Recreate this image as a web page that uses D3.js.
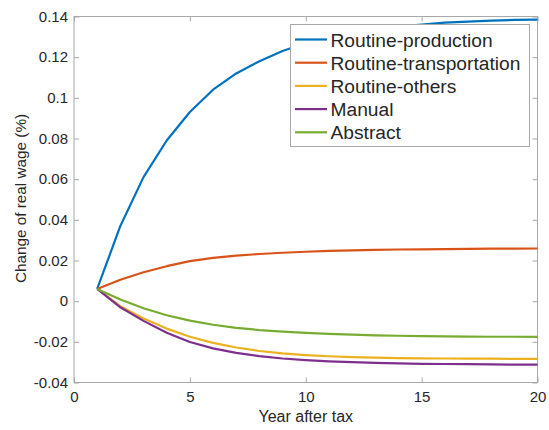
<!DOCTYPE html>
<html>
<head>
<meta charset="utf-8">
<script src="https://cdn.jsdelivr.net/npm/d3@7"></script>
<style>
  body { margin: 0; background: #fff; }
  text { font-family: "Liberation Sans", Arial, sans-serif; fill: #262626; }
</style>
</head>
<body>
<svg width="549" height="430"></svg>
<script>
// years after tax
var years = d3.range(1, 21);

var routineProduction = [0.006, 0.037, 0.061, 0.079, 0.093, 0.104, 0.112, 0.118, 0.123, 0.127,
    0.130, 0.132, 0.134, 0.135, 0.136, 0.137, 0.1375, 0.138, 0.1383, 0.1385];
var routineTransportation = [0.006, 0.0105, 0.0142, 0.0172, 0.0197, 0.0213, 0.0224, 0.0232, 0.0238, 0.0243,
    0.0247, 0.025, 0.0252, 0.0254, 0.0255, 0.0256, 0.0257, 0.0258, 0.0258, 0.0259];
var routineOthers = [0.006, -0.0025, -0.0085, -0.0135, -0.0175, -0.0205, -0.0228, -0.0245, -0.0257, -0.0265,
    -0.0271, -0.0275, -0.0278, -0.028, -0.0281, -0.0282, -0.0283, -0.0283, -0.0284, -0.0284];
var manual = [0.006, -0.003, -0.0097, -0.0155, -0.0201, -0.0232, -0.0254, -0.027, -0.0282, -0.029,
    -0.0296, -0.03, -0.0303, -0.0306, -0.0308, -0.0309, -0.031, -0.0311, -0.0312, -0.0312];
var abstractW = [0.006, 0.0008, -0.0035, -0.0069, -0.0096, -0.0116, -0.0131, -0.0142, -0.015, -0.0156,
    -0.0161, -0.0165, -0.0168, -0.017, -0.0172, -0.0173, -0.0174, -0.0175, -0.0175, -0.0176];

var seriesNames = ["Routine-production", "Routine-transportation", "Routine-others", "Manual", "Abstract"];
var seriesValues = [routineProduction, routineTransportation, routineOthers, manual, abstractW];
var colors = ["#0072BD", "#D95319", "#EDB120", "#7E2F8E", "#77AC30"];

var xTicks = [0, 5, 10, 15, 20];
var yTicks = [-0.04, -0.02, 0, 0.02, 0.04, 0.06, 0.08, 0.1, 0.12, 0.14];

var plotL = 74, plotR = 537.5, plotT = 16.5, plotB = 382.5;

var svg = d3.select("svg");

var x = d3.scaleLinear().domain([0, 20]).range([plotL, plotR]);
var y = d3.scaleLinear().domain([-0.04, 0.14]).range([plotB, plotT]);

var axisColor = "#a8a8a8";

// box
svg.append("rect")
    .attr("x", plotL).attr("y", plotT)
    .attr("width", plotR - plotL).attr("height", plotB - plotT)
    .attr("fill", "none").attr("stroke", axisColor).attr("stroke-width", 1);

// ticks inward on all sides
var fmtY = function(d){ return d === 0 ? "0" : String(+d.toFixed(2)); };

var xb = svg.append("g").attr("transform", "translate(0," + plotB + ")")
    .call(d3.axisBottom(x).tickValues(xTicks).tickSizeInner(-5).tickSizeOuter(0).tickPadding(9));
var xt = svg.append("g").attr("transform", "translate(0," + plotT + ")")
    .call(d3.axisTop(x).tickValues(xTicks).tickSizeInner(-5).tickSizeOuter(0).tickFormat(""));
var yl = svg.append("g").attr("transform", "translate(" + plotL + ",0)")
    .call(d3.axisLeft(y).tickValues(yTicks).tickSizeInner(-5).tickSizeOuter(0).tickPadding(6).tickFormat(fmtY));
var yr = svg.append("g").attr("transform", "translate(" + plotR + ",0)")
    .call(d3.axisRight(y).tickValues(yTicks).tickSizeInner(-5).tickSizeOuter(0).tickFormat(""));

[xb, xt, yl, yr].forEach(function(g){
    g.select(".domain").remove();
    g.selectAll(".tick line").attr("stroke", axisColor);
    g.selectAll(".tick text").attr("font-size", 15).attr("fill", "#262626")
        .attr("font-family", "Liberation Sans, Arial, sans-serif");
});

// lines
var line = d3.line()
    .x(function(d, i){ return x(years[i]); })
    .y(function(d){ return y(d); });

seriesValues.forEach(function(vals, k){
    svg.append("path")
        .datum(vals)
        .attr("d", line)
        .attr("fill", "none")
        .attr("stroke", colors[k])
        .attr("stroke-width", 2.2)
        .attr("stroke-linejoin", "round");
});

// axis labels
svg.append("text")
    .attr("x", (plotL + plotR) / 2).attr("y", 422)
    .attr("text-anchor", "middle").attr("font-size", 16)
    .text("Year after tax");
svg.append("text")
    .attr("transform", "translate(26,198.5) rotate(-90)")
    .attr("text-anchor", "middle").attr("font-size", 15.3)
    .text("Change of real wage (%)");

// legend
var lg = svg.append("g");
lg.append("rect")
    .attr("x", 290.5).attr("y", 24.5).attr("width", 239).attr("height", 122)
    .attr("fill", "#fff").attr("stroke", axisColor);
seriesNames.forEach(function(name, k){
    var yy = 39.5 + k * 23.2;
    lg.append("line")
        .attr("x1", 295).attr("x2", 327)
        .attr("y1", yy).attr("y2", yy)
        .attr("stroke", colors[k]).attr("stroke-width", 2.2);
    lg.append("text")
        .attr("x", 330.5).attr("y", yy + 7)
        .attr("font-size", 19.2)
        .attr("fill", "#000")
        .text(name);
});
</script>
</body>
</html>
